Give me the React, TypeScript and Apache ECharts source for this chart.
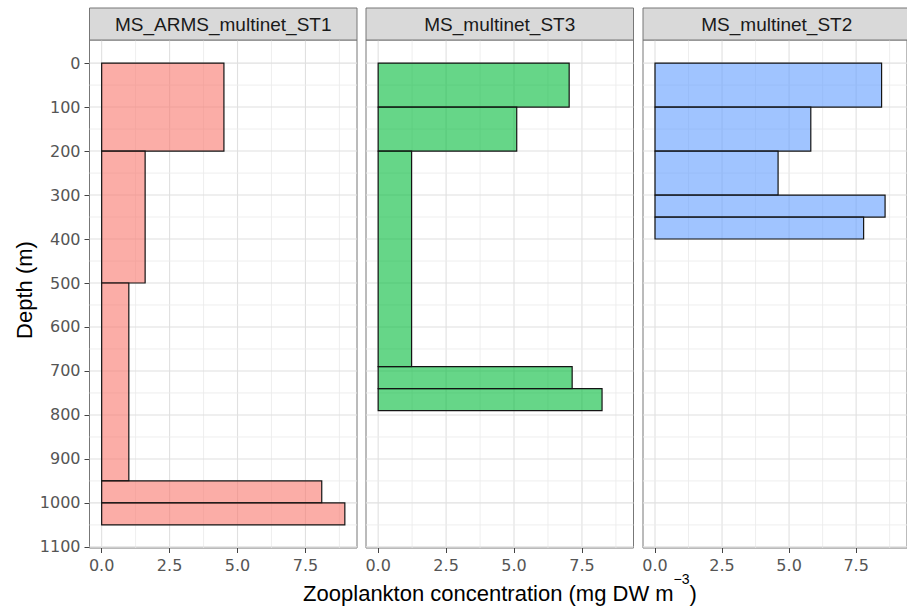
import React, { useEffect, useRef } from "react";
import * as echarts from "echarts";

// ---- data ----
const panelNames = ["MS_ARMS_multinet_ST1", "MS_multinet_ST3", "MS_multinet_ST2"];

const st1Top = [0, 200, 500, 950, 1000];
const st1Bottom = [200, 500, 950, 1000, 1050];
const st1Conc = [4.5, 1.6, 1.0, 8.1, 8.95];

const st3Top = [0, 100, 200, 690, 740];
const st3Bottom = [100, 200, 690, 740, 790];
const st3Conc = [7.03, 5.1, 1.23, 7.14, 8.24];

const st2Top = [0, 100, 200, 300, 350];
const st2Bottom = [100, 200, 300, 350, 400];
const st2Conc = [8.45, 5.81, 4.59, 8.58, 7.78];

const depthTicks = [0, 100, 200, 300, 400, 500, 600, 700, 800, 900, 1000, 1100];
const depthMinor = [50, 150, 250, 350, 450, 550, 650, 750, 850, 950, 1050];
const concTicks = [0, 2.5, 5, 7.5];
const concMinor = [1.25, 3.75, 6.25, 8.75];

const fills = ["rgba(248,118,109,0.6)", "rgba(0,186,56,0.6)", "rgba(97,156,255,0.6)"];

const xTitle = "Zooplankton concentration (mg DW m";
const xTitleSup = "\u22123";
const yTitle = "Depth (m)";

// ---- layout ----
const LEFTS = [89.5, 366, 643];
const PW = 267.5;
const TOP = 40;
const PH = 508;
const STRIP_TOP = 8;

const X_MIN = -0.4475;
const X_MAX = 9.3975;
const Y_MIN = -52.5;
const Y_MAX = 1102.5;

export default function App() {
  const ref = useRef<HTMLDivElement>(null);

  useEffect(() => {
    document.body.style.margin = "0";
    if (!ref.current) return;
    const chart = echarts.init(ref.current, undefined, { renderer: "svg" });

    const tops = [st1Top, st3Top, st2Top];
    const bottoms = [st1Bottom, st3Bottom, st2Bottom];
    const concs = [st1Conc, st3Conc, st2Conc];

    const grids = LEFTS.map((l) => ({
      left: l,
      top: TOP,
      width: PW,
      height: PH,
      show: true,
      backgroundColor: "#ffffff",
      borderColor: "#777777",
      borderWidth: 1,
      containLabel: false,
    }));

    const xAxes = LEFTS.map((_, i) => ({
      type: "value",
      gridIndex: i,
      position: "bottom",
      min: X_MIN,
      max: X_MAX,
      axisLine: { show: false, onZero: false },
      splitLine: { show: false },
      minorTick: { show: false },
      axisTick: {
        show: true,
        customValues: concTicks,
        length: 5,
        lineStyle: { color: "#444444", width: 1 },
      },
      axisLabel: {
        show: true,
        customValues: concTicks,
        formatter: (v: number) => v.toFixed(1),
        fontFamily: "DejaVu Sans",
        fontSize: 16,
        color: "#555555",
        margin: 9,
      },
    }));

    const yAxes = LEFTS.map((_, i) => ({
      type: "value",
      gridIndex: i,
      position: "left",
      inverse: true,
      min: Y_MIN,
      max: Y_MAX,
      axisLine: { show: false, onZero: false },
      splitLine: { show: false },
      minorTick: { show: false },
      axisTick: {
        show: i === 0,
        customValues: depthTicks,
        length: 5,
        lineStyle: { color: "#444444", width: 1 },
      },
      axisLabel: {
        show: i === 0,
        customValues: depthTicks,
        formatter: (v: number) => String(Math.round(v)),
        fontFamily: "DejaVu Sans",
        fontSize: 16,
        color: "#555555",
        margin: 9,
      },
    }));

    const gridLineData: number[][] = [];
    concTicks.forEach((v) => gridLineData.push([v, 0, 1]));
    concMinor.forEach((v) => gridLineData.push([v, 0, 0]));
    depthTicks.forEach((v) => gridLineData.push([v, 1, 1]));
    depthMinor.forEach((v) => gridLineData.push([v, 1, 0]));

    const series: any[] = [];
    LEFTS.forEach((_, i) => {
      series.push({
        type: "custom",
        xAxisIndex: i,
        yAxisIndex: i,
        silent: true,
        z: 1,
        data: gridLineData,
        renderItem: (params: any, api: any) => {
          const cs = params.coordSys;
          const v = api.value(0);
          const orient = api.value(1);
          const major = api.value(2) === 1;
          let shape;
          if (orient === 0) {
            const p = api.coord([v, 0]);
            shape = { x1: p[0], y1: cs.y, x2: p[0], y2: cs.y + cs.height };
          } else {
            const p = api.coord([0, v]);
            shape = { x1: cs.x, y1: p[1], x2: cs.x + cs.width, y2: p[1] };
          }
          return {
            type: "line",
            shape,
            style: { stroke: major ? "#e0e0e0" : "#ececec", lineWidth: major ? 1.1 : 0.9 },
          };
        },
      });
      const data = concs[i].map((c, k) => [c, tops[i][k], bottoms[i][k]]);
      series.push({
        type: "custom",
        xAxisIndex: i,
        yAxisIndex: i,
        z: 2,
        data,
        encode: { x: 0, y: [1, 2] },
        renderItem: (params: any, api: any) => {
          const c = api.value(0);
          const y0 = api.value(1);
          const y1 = api.value(2);
          const a = api.coord([0, y0]);
          const b = api.coord([c, y1]);
          return {
            type: "rect",
            shape: { x: a[0], y: a[1], width: b[0] - a[0], height: b[1] - a[1] },
            style: { fill: fills[i], stroke: "#141414", lineWidth: 1.2 },
          };
        },
      });
    });

    const graphics: any[] = [];
    LEFTS.forEach((l, i) => {
      graphics.push({
        type: "rect",
        shape: { x: l, y: STRIP_TOP, width: PW, height: TOP - STRIP_TOP },
        style: { fill: "#d9d9d9", stroke: "#777777", lineWidth: 1 },
        z: 10,
      });
      graphics.push({
        type: "text",
        x: l + PW / 2,
        y: (STRIP_TOP + TOP) / 2,
        style: {
          text: panelNames[i],
          fontFamily: "Liberation Sans",
          fontSize: 19,
          fill: "#1a1a1a",
          align: "center",
          verticalAlign: "middle",
        },
        z: 11,
      });
    });
    graphics.push({
      type: "text",
      x: 500,
      y: 593,
      style: {
        text: "{a|" + xTitle + "}{s|" + xTitleSup + "}{a|)}",
        align: "center",
        verticalAlign: "middle",
        rich: {
          a: { fontFamily: "Liberation Sans", fontSize: 22, lineHeight: 42, fill: "#000000" },
          s: { fontFamily: "Liberation Sans", fontSize: 14, lineHeight: 14, verticalAlign: "top", fill: "#000000" },
        },
      },
      z: 11,
    });
    graphics.push({
      type: "text",
      x: 24,
      y: 290,
      rotation: Math.PI / 2,
      style: {
        text: yTitle,
        fontFamily: "Liberation Sans",
        fontSize: 22,
        fill: "#000000",
        align: "center",
        verticalAlign: "middle",
      },
      z: 11,
    });

    chart.setOption({
      animation: false,
      backgroundColor: "#ffffff",
      grid: grids,
      xAxis: xAxes,
      yAxis: yAxes,
      series,
      graphic: graphics,
    });

    return () => {
      chart.dispose();
    };
  }, []);

  return (
    <div
      ref={ref}
      style={{ position: "fixed", left: 0, top: 0, width: 907, height: 607 }}
    />
  );
}
